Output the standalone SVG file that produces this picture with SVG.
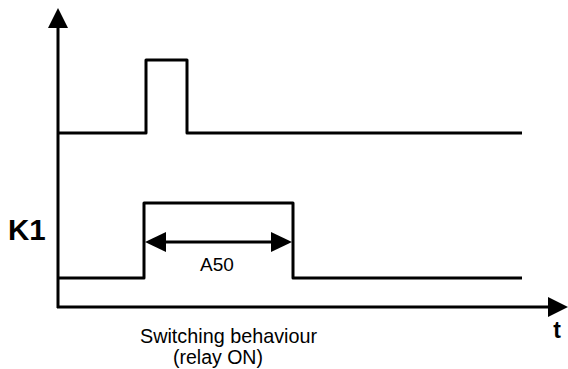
<svg xmlns="http://www.w3.org/2000/svg" width="568" height="369" viewBox="0 0 568 369">
<style>
.ln{fill:none;stroke:#000;stroke-width:3;stroke-linejoin:round}
.hd{fill:#000;stroke:none}
.tx{font-family:"Liberation Sans",Arial,sans-serif;fill:#000}
</style>
<rect width="568" height="369" fill="#fff"/>
<g id="connectors">
<g id="y-axis">
<line class="ln" x1="58" y1="26" x2="58" y2="308"/>
<polygon class="hd" points="58,8 48,28 68,28"/>
</g>
<g id="x-axis">
<line class="ln" x1="57" y1="307" x2="550" y2="307"/>
<polygon class="hd" points="568,307 548,297 548,317"/>
</g>
</g>
<g id="signal-top">
<polyline class="ln" points="58,133 146,133 146,60 187,60 187,133 522,133"/>
</g>
<g id="signal-k1">
<polyline class="ln" points="58,278 144,278 144,203 293,203 293,278 522,278"/>
</g>
<g id="dimension-a50">
<line class="ln" x1="162" y1="242" x2="275" y2="242"/>
<polygon class="hd" points="145,242 166,232 166,252"/>
<polygon class="hd" points="292,242 271,232 271,252"/>
<text class="tx" x="217" y="271" font-size="19" text-anchor="middle">A50</text>
</g>
<g id="labels">
<text class="tx" x="8" y="240" font-size="29.5" font-weight="bold">K1</text>
<text class="tx" x="557" y="338" font-size="23" font-weight="bold" text-anchor="middle">t</text>
<text class="tx" x="140" y="343" font-size="19.8">Switching behaviour</text>
<text class="tx" x="173" y="364" font-size="19.5">(relay ON)</text>
</g>
</svg>
